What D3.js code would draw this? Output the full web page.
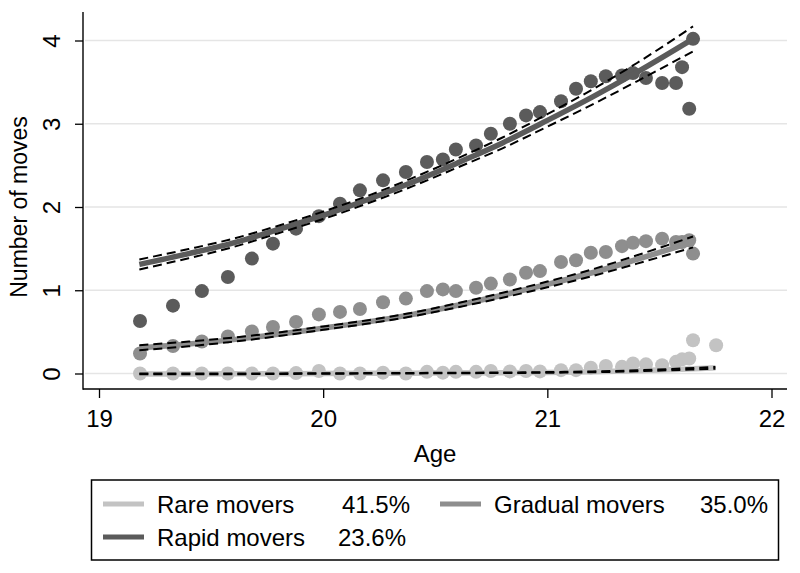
<!DOCTYPE html>
<html>
<head>
<meta charset="utf-8">
<script src="https://cdn.jsdelivr.net/npm/d3@7"></script>
<style>
  html, body { margin: 0; padding: 0; background: #fff; }
  svg { display: block; font-family: "Liberation Sans", Arial, Helvetica, sans-serif; }
</style>
</head>
<body>
<svg id="chart" width="800" height="573"></svg>
<script>
// ---------------- data ----------------
const xTicks = [19, 20, 21, 22];
const yTicks = [0, 1, 2, 3, 4];
const xTitle = "Age";
const yTitle = "Number of moves";

const seriesNames = ["Rare movers", "Gradual movers", "Rapid movers"];
const seriesShares = ["41.5%", "35.0%", "23.6%"];
const seriesColors = ["#c3c3c3", "#8e8e8e", "#5b5b5b"];

// observed means by age
const ages = [19.183, 19.330, 19.459, 19.575, 19.682, 19.776, 19.879, 19.981, 20.075, 20.164,
              20.267, 20.369, 20.463, 20.534, 20.592, 20.682, 20.748, 20.833, 20.905, 20.967,
              21.061, 21.128, 21.194, 21.261, 21.333, 21.382, 21.440, 21.512, 21.574, 21.601,
              21.633, 21.650];
const rareAges = ages.concat([21.753]);

const rareObs = [0, 0, 0, 0, 0, 0, 0.005, 0.03, 0, 0, 0.01, 0, 0.02, 0.01, 0.02, 0.02, 0.03, 0.025,
                 0.03, 0.025, 0.04, 0.04, 0.07, 0.09, 0.08, 0.12, 0.11, 0.10, 0.14, 0.17, 0.18, 0.40, 0.34];
const gradualObs = [0.24, 0.33, 0.385, 0.445, 0.505, 0.56, 0.62, 0.71, 0.74, 0.775, 0.855, 0.90,
                    0.99, 1.01, 0.99, 1.03, 1.08, 1.13, 1.21, 1.23, 1.34, 1.36, 1.45, 1.46, 1.53,
                    1.57, 1.59, 1.62, 1.58, 1.58, 1.60, 1.44];
const rapidObs = [0.63, 0.815, 0.99, 1.16, 1.38, 1.56, 1.74, 1.89, 2.04, 2.20, 2.32, 2.42, 2.54,
                  2.57, 2.69, 2.74, 2.88, 3.00, 3.10, 3.14, 3.27, 3.42, 3.51, 3.57, 3.58, 3.61,
                  3.55, 3.49, 3.49, 3.68, 3.18, 4.02];

// fitted trajectories with confidence bands
const fitAges = [19.18, 19.4, 19.6, 19.8, 20.0, 20.2, 20.4, 20.6, 20.8, 21.0, 21.2, 21.4, 21.65];
const rapidFit = [1.31, 1.44, 1.57, 1.73, 1.90, 2.09, 2.30, 2.53, 2.77, 3.04, 3.32, 3.62, 4.02];
const rapidHi  = [1.37, 1.495, 1.62, 1.775, 1.945, 2.135, 2.35, 2.585, 2.835, 3.115, 3.41, 3.73, 4.17];
const rapidLo  = [1.25, 1.385, 1.52, 1.685, 1.855, 2.045, 2.25, 2.475, 2.705, 2.965, 3.23, 3.51, 3.87];
const gradualFit = [0.31, 0.355, 0.407, 0.471, 0.545, 0.62, 0.71, 0.82, 0.94, 1.07, 1.21, 1.37, 1.58];
const gradualHi  = [0.34, 0.383, 0.432, 0.493, 0.565, 0.64, 0.732, 0.845, 0.97, 1.105, 1.25, 1.42, 1.645];
const gradualLo  = [0.28, 0.327, 0.382, 0.449, 0.525, 0.60, 0.688, 0.795, 0.91, 1.035, 1.17, 1.32, 1.515];

const rareFitAges = [19.18, 19.6, 20.0, 20.4, 20.8, 21.0, 21.2, 21.4, 21.6, 21.75];
const rareFit = [-0.005, -0.004, 0.0, 0.004, 0.009, 0.013, 0.02, 0.033, 0.052, 0.068];
const rareHi  = [-0.001, 0.0, 0.003, 0.007, 0.012, 0.017, 0.025, 0.039, 0.06, 0.078];
const rareLo  = [-0.009, -0.008, -0.003, 0.001, 0.006, 0.009, 0.015, 0.027, 0.044, 0.058];

// ---------------- layout ----------------
const svg = d3.select("#chart");
const axisX = 83, axisTop = 12, axisBottom = 389, plotRight = 787;

const x = d3.scaleLinear().domain([19, 22]).range([99, 771.5]);
const y = d3.scaleLinear().domain([0, 4]).range([373.5, 40.5]);

const fontTick = 24;

// gridlines
svg.append("g").selectAll("line").data(yTicks).join("line")
  .attr("x1", axisX + 2).attr("x2", plotRight)
  .attr("y1", d => y(d)).attr("y2", d => y(d))
  .attr("stroke", "#e5e5e5").attr("stroke-width", 1.5);

// y axis
const gy = svg.append("g").attr("transform", `translate(${axisX},0)`)
  .call(d3.axisLeft(y).tickValues(yTicks).tickSize(8).tickSizeOuter(0).tickFormat(d3.format("d")));
gy.select(".domain").remove();
gy.selectAll(".tick line").attr("stroke", "#000").attr("stroke-width", 1.3);
gy.selectAll(".tick text")
  .attr("x", null).attr("dy", null)
  .attr("transform", "translate(-23,0) rotate(-90)")
  .attr("text-anchor", "middle")
  .attr("font-size", fontTick).attr("font-family", "Liberation Sans, Arial, sans-serif")
  .attr("fill", "#000");

// x axis
const gx = svg.append("g").attr("transform", `translate(0,${axisBottom})`)
  .call(d3.axisBottom(x).tickValues(xTicks).tickSize(9).tickSizeOuter(0).tickFormat(d3.format("d")));
gx.select(".domain").remove();
gx.selectAll(".tick line").attr("stroke", "#000").attr("stroke-width", 1.3);
gx.selectAll(".tick text")
  .attr("dy", null).attr("y", 38)
  .attr("font-size", fontTick).attr("font-family", "Liberation Sans, Arial, sans-serif")
  .attr("fill", "#000");

// axis lines
svg.append("line").attr("x1", axisX).attr("x2", axisX).attr("y1", axisTop).attr("y2", axisBottom + 0.7)
  .attr("stroke", "#000").attr("stroke-width", 1.4);
svg.append("line").attr("x1", axisX).attr("x2", plotRight).attr("y1", axisBottom).attr("y2", axisBottom)
  .attr("stroke", "#000").attr("stroke-width", 1.4);

// axis titles
svg.append("text").attr("x", 435).attr("y", 462).attr("text-anchor", "middle")
  .attr("font-size", 24).text(xTitle);
svg.append("text").attr("transform", "translate(27,207) rotate(-90)").attr("text-anchor", "middle")
  .attr("font-size", 23).text(yTitle);

// ---------------- marks ----------------
const pts = [
  { a: rareAges, v: rareObs, c: seriesColors[0] },
  { a: ages, v: gradualObs, c: seriesColors[1] },
  { a: ages, v: rapidObs, c: seriesColors[2] }
];
pts.forEach(s => {
  svg.append("g").selectAll("circle").data(s.v).join("circle")
    .attr("cx", (d, i) => x(s.a[i])).attr("cy", d => y(d))
    .attr("r", 7).attr("fill", s.c);
});

const lineGen = (ax) => d3.line().x((d, i) => x(ax[i])).y(d => y(d)).curve(d3.curveMonotoneX);

const fits = [
  { a: rareFitAges, f: rareFit, hi: rareHi, lo: rareLo, c: seriesColors[0] },
  { a: fitAges, f: gradualFit, hi: gradualHi, lo: gradualLo, c: seriesColors[1] },
  { a: fitAges, f: rapidFit, hi: rapidHi, lo: rapidLo, c: seriesColors[2] }
];
fits.forEach(s => {
  svg.append("path").attr("d", lineGen(s.a)(s.f))
    .attr("fill", "none").attr("stroke", s.c).attr("stroke-width", 5.5);
  [s.hi, s.lo].forEach(band => {
    svg.append("path").attr("d", lineGen(s.a)(band))
      .attr("fill", "none").attr("stroke", "#000").attr("stroke-width", 2)
      .attr("stroke-dasharray", "9,5");
  });
});

// ---------------- legend ----------------
const lg = svg.append("g");
lg.append("rect").attr("x", 91.5).attr("y", 480).attr("width", 687).attr("height", 80)
  .attr("fill", "#fff").attr("stroke", "#000").attr("stroke-width", 1.5);

const legendPos = [
  { sx: 103, row: 0, tx: 157, px: 342 },
  { sx: 440, row: 0, tx: 494, px: 700 },
  { sx: 103, row: 1, tx: 157, px: 338 }
];
seriesNames.forEach((name, i) => {
  const p = legendPos[i];
  const base = 513 + p.row * 33;
  lg.append("rect").attr("x", p.sx).attr("y", base - 11.5).attr("width", 41).attr("height", 5)
    .attr("fill", seriesColors[i]);
  lg.append("text").attr("x", p.tx).attr("y", base).attr("font-size", 24).text(name);
  lg.append("text").attr("x", p.px).attr("y", base).attr("font-size", 24).text(seriesShares[i]);
});
</script>
</body>
</html>
